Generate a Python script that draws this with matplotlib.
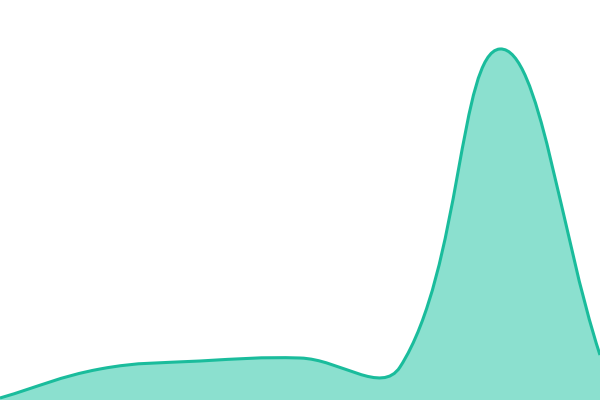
import numpy as np
import matplotlib
matplotlib.use("Agg")
import matplotlib.pyplot as plt
from matplotlib.path import Path
from matplotlib.patches import PathPatch

# data
xs = [0, 1, 2, 3, 4, 5, 6]
values = [2, 31, 39, 42, 33, 351, 45]

line_color = "#1abc9c"
fill_color = "#8be0cf"
tension = 0.4

fig = plt.figure(figsize=(6, 4), dpi=100)
ax = fig.add_axes([0, 0, 1, 1])
ax.set_xlim(0, 6)
ax.set_ylim(0, 400)
ax.axis("off")

# work in pixel space like a canvas spline would
pts = ax.transData.transform(np.column_stack([xs, values]))
w, h = fig.bbox.width, fig.bbox.height

ctrl = []
for i in range(len(pts)):
    cur = pts[i]
    prev = pts[i - 1] if i > 0 else cur
    nxt = pts[i + 1] if i < len(pts) - 1 else cur
    d01 = np.hypot(*(cur - prev))
    d12 = np.hypot(*(nxt - cur))
    s01 = d01 / (d01 + d12) if d01 + d12 else 0
    s12 = d12 / (d01 + d12) if d01 + d12 else 0
    fa = tension * s01
    fb = tension * s12
    cp_prev = cur - fa * (nxt - prev)
    cp_next = cur + fb * (nxt - prev)
    cp_prev = np.clip(cp_prev, [0, 0], [w, h])
    cp_next = np.clip(cp_next, [0, 0], [w, h])
    ctrl.append((cp_prev, cp_next))

verts = [pts[0]]
codes = [Path.MOVETO]
for i in range(1, len(pts)):
    verts += [ctrl[i - 1][1], ctrl[i][0], pts[i]]
    codes += [Path.CURVE4] * 3
verts = ax.transData.inverted().transform(np.array(verts))

line_path = Path(verts, codes)
fill_verts = np.vstack([verts, [[xs[-1], -10], [xs[0], -10], verts[0]]])
fill_codes = codes + [Path.LINETO, Path.LINETO, Path.CLOSEPOLY]
fill_path = Path(fill_verts, fill_codes)

ax.add_patch(PathPatch(fill_path, facecolor=fill_color, edgecolor="none"))
ax.add_patch(PathPatch(line_path, facecolor="none", edgecolor=line_color, lw=2.2))

fig.savefig("out.png", dpi=100)
